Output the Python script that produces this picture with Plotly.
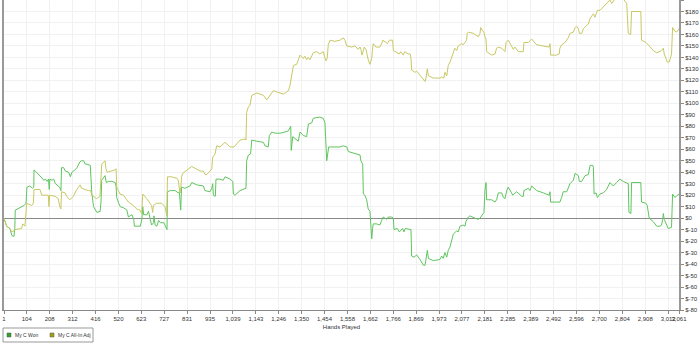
import plotly.graph_objects as go

# ---------------- data ----------------
hands_won = [1, 13, 28, 36, 46, 50, 52, 70, 80, 92, 101, 105, 117, 131, 136, 137, 148, 159, 166, 173, 181, 189, 196, 203, 206, 209, 218, 226, 234, 241, 253, 259, 262, 271, 279, 294, 302, 309, 317, 332, 345, 353, 362, 370, 377, 392, 395, 399, 407, 415, 422, 437, 441, 444, 453, 459, 465, 475, 490, 505, 509, 512, 521, 528, 543, 558, 565, 581, 589, 592, 619, 626, 630, 634, 649, 656, 664, 670, 679, 681, 686, 694, 702, 710, 726, 736, 740, 742, 755, 777,
             791, 796, 799, 802, 806, 821, 844, 852, 875, 905, 912, 935, 943, 947, 950, 959, 962, 980, 995, 1003, 1026, 1038, 1041, 1048, 1071, 1098, 1101, 1109, 1119, 1124, 1147, 1177, 1184, 1199, 1204, 1215, 1230, 1252, 1275, 1290, 1301, 1303, 1310, 1335, 1343, 1358, 1373, 1381, 1396, 1403, 1433, 1448, 1456, 1464, 1473, 1501, 1524, 1539, 1555, 1562, 1592, 1607, 1615, 1619, 1627, 1630, 1637, 1645, 1652, 1660, 1663, 1668, 1672, 1675, 1690, 1705, 1713, 1720, 1736, 1743, 1758, 1766, 1769, 1784, 1793, 1808, 1814, 1820, 1846, 1849, 1860, 1872, 1887, 1902, 1910, 1914, 1920, 1925, 1947, 1977, 1985, 1992, 2000, 2008, 2015, 2023, 2030, 2038, 2053, 2060, 2068, 2083, 2091, 2095, 2106, 2113, 2136, 2151, 2159, 2171, 2177, 2181, 2186, 2189, 2212, 2227, 2234, 2242, 2257, 2265, 2272, 2280, 2287, 2302, 2307, 2325, 2348, 2355, 2358, 2378, 2385, 2393, 2416, 2446, 2473, 2476, 2479, 2506, 2521, 2529, 2536, 2552, 2559, 2567, 2582, 2590, 2605, 2609, 2620, 2635, 2650, 2658, 2670, 2673, 2676, 2685, 2691, 2703, 2718, 2733, 2748, 2763, 2778, 2793, 2808, 2824, 2831, 2834, 2843, 2846, 2869, 2888, 2891, 2911, 2917, 2921, 2926, 2944, 2960, 2975, 2982, 2987, 2990, 2994, 3008, 3012, 3027, 3032, 3042, 3061]
won = [0, -7, -9, -15, -16, -9, 7, 9, 10, 11, 13, 27, 28, 26, 27, 42, 40, 38, 36, 35, 33, 34, 32, 34, 25, 34, 33, 34, 30, 29, 27, 24, 44, 44, 41, 40, 36, 40, 41, 44, 49, 50, 50, 47, 47, 46, 35, 22, 10, 7, 5, 6, 15, 33, 36, 37, 31, 32, 32, 31, 28, 18, 13, 10, 9, 7, 1, 3, -1, -7, -7, -1, 10, 3, 3, 6, -1, -6, -4, 2, -6, -7, -2, -4, -4, -9, -10, 23, 24, 24,
       22, 23, 16, 7, 27, 26, 28, 31, 29, 28, 24, 23, 26, 30, 20, 19, 34, 34, 33, 36, 34, 32, 21, 20, 24, 26, 50, 55, 56, 68, 67, 66, 63, 62, 72, 75, 74, 74, 75, 76, 80, 59, 71, 67, 75, 72, 71, 82, 83, 87, 88, 87, 83, 50, 62, 62, 62, 63, 62, 58, 56, 55, 55, 50, 47, 21, 20, 16, 8, 6, -2, -18, -9, -5, -5, -6, -2, 1, -1, 1, 1, 0, -10, -9, -12, -9, -12, -9, -10, -33, -34, -32, -36, -41, -41, -34, -28, -35, -37, -36, -33, -35, -30, -34, -28, -25, -19, -14, -11, -12, -7, -6, -7, -3, 1, 2, 0, -1, 0, 4, 5, 24, 31, 16, 16, 14, 16, 22, 22, 18, 17, 24, 27, 22, 20, 23, 19, 19, 24, 26, 24, 28, 24, 22, 20, 23, 14, 14, 14, 18, 23, 23, 26, 30, 33, 39, 37, 32, 32, 37, 38, 46, 46, 44, 21, 22, 18, 21, 22, 25, 31, 28, 31, 34, 32, 31, 30, 5, 4, 31, 31, 31, 14, 13, 11, 5, 0, -3, -7, -7, -6, -1, 4, -1, -7, -9, -8, 21, 18, 21]

hands_adj = [1, 13, 28, 36, 46, 51, 81, 86, 96, 100, 104, 127, 134, 137, 164, 172, 202, 205, 208, 232, 247, 254, 259, 262, 278, 285, 300, 315, 331, 346, 353, 383, 394, 399, 421, 436, 441, 444, 459, 463, 469, 504, 509, 512, 527, 542, 565, 587, 603, 617, 625, 630, 648, 663, 670, 675, 678, 693, 716, 731, 735, 739, 742, 761, 776, 784, 791, 796, 799, 803, 806, 811, 829, 837, 852, 890, 905, 912, 920, 935, 943, 947, 958, 965, 980, 1003, 1026, 1044, 1056, 1071, 1094, 1098, 1101, 1109, 1116, 1124, 1147, 1177, 1192, 1207, 1222, 1237, 1252, 1267, 1283, 1290, 1297, 1305, 1313, 1328, 1335, 1343, 1358, 1365, 1373, 1381, 1388, 1396, 1403, 1418, 1433, 1448, 1456, 1460, 1466, 1471, 1479, 1501, 1524, 1539, 1547, 1555, 1577, 1592, 1607, 1615, 1619, 1624, 1630, 1634, 1642, 1648, 1652, 1660, 1668, 1671, 1675, 1687, 1705, 1713, 1718, 1733, 1739, 1748, 1763, 1766, 1784, 1793, 1800, 1811, 1818, 1833, 1842, 1846, 1849, 1864, 1872, 1884, 1894, 1902, 1910, 1914, 1920, 1925, 1947, 1977, 1985, 1995, 2000, 2008, 2011, 2015, 2023, 2030, 2038, 2045, 2053, 2060, 2076, 2083, 2091, 2098, 2101, 2106, 2128, 2151, 2159, 2162, 2171, 2177, 2181, 2186, 2189, 2212, 2227, 2234, 2242, 2257, 2272, 2277, 2287, 2295, 2302, 2310, 2317, 2333, 2355, 2358, 2378, 2393, 2416, 2446, 2473, 2476, 2479, 2506, 2518, 2521, 2529, 2544, 2559, 2567, 2582, 2590, 2597, 2605, 2609, 2620, 2628, 2643, 2650, 2658, 2673, 2680, 2691, 2703, 2718, 2733, 2748, 2756, 2771, 2808, 2824, 2831, 2842, 2846, 2884, 2888, 2891, 2911, 2926, 2944, 2960, 2982, 2990, 2994, 3002, 3008, 3017, 3023, 3027, 3032, 3042, 3050, 3061]
adj = [0, -7, -9, -12, -11, -10, -9, -5, -7, 10, 13, 11, 13, 25, 25, 20, 20, 10, 20, 19, 17, 10, 8, 23, 22, 19, 16, 19, 25, 29, 26, 24, 24, 20, 17, 19, 36, 47, 50, 43, 40, 42, 43, 27, 21, 20, 14, 11, 8, 7, 4, 21, 17, 13, 11, 5, 11, 13, 13, 10, 3, 2, 36, 36, 35, 35, 33, 23, 22, 27, 36, 39, 42, 43, 45, 41, 41, 38, 38, 41, 43, 53, 56, 63, 62, 66, 62, 62, 65, 68, 69, 68, 92, 97, 98, 107, 109, 107, 103, 107, 111, 110, 109, 108, 110, 111, 115, 126, 133, 134, 137, 142, 139, 141, 138, 140, 138, 142, 144, 145, 143, 145, 140, 137, 139, 151, 155, 154, 155, 157, 155, 150, 149, 150, 147, 149, 147, 142, 146, 149, 147, 141, 138, 134, 139, 146, 152, 149, 149, 152, 155, 153, 152, 155, 155, 146, 144, 143, 145, 142, 145, 143, 143, 139, 129, 127, 128, 125, 122, 120, 119, 122, 130, 124, 122, 122, 123, 122, 127, 124, 128, 133, 136, 140, 144, 148, 146, 150, 152, 151, 153, 155, 161, 162, 161, 158, 161, 166, 163, 162, 158, 156, 145, 142, 143, 148, 149, 148, 145, 153, 155, 152, 149, 147, 149, 145, 145, 153, 153, 156, 151, 150, 149, 152, 142, 142, 143, 148, 151, 153, 157, 161, 162, 166, 167, 165, 161, 161, 165, 168, 169, 174, 178, 175, 181, 181, 184, 187, 190, 187, 191, 191, 187, 161, 160, 180, 180, 180, 155, 153, 150, 146, 144, 146, 148, 143, 139, 136, 136, 141, 143, 166, 163, 162, 165]

x_ticks = [1, 104, 208, 312, 416, 520, 623, 727, 831, 935, 1039, 1143, 1246, 1350, 1454, 1558, 1662, 1766, 1869, 1973, 2077, 2181, 2285, 2389, 2492, 2596, 2700, 2804, 2908, 3012, 3061]
y_ticks = list(range(-80, 191, 10))

series_names = ["My C Won", "My C All-In Adj"]
line_colors = ["#5ec55e", "#c8c864"]
legend_colors = ["#2aa52a", "#a0a010"]

# ---------------- figure ----------------
fig = go.Figure()
fig.add_trace(go.Scatter(x=hands_won, y=won, mode="lines", name=series_names[0],
                         line=dict(color=line_colors[0], width=1), showlegend=False, hoverinfo="skip"))
fig.add_trace(go.Scatter(x=hands_adj, y=adj, mode="lines", name=series_names[1],
                         line=dict(color=line_colors[1], width=1), showlegend=False, hoverinfo="skip"))

font_family = "Liberation Sans, Arial, sans-serif"

fig.update_layout(
    width=700, height=346,
    margin=dict(l=4, r=21, t=0, b=36),
    paper_bgcolor="white", plot_bgcolor="white",
    font=dict(family=font_family, size=6, color="#333"),
    showlegend=False,
    xaxis=dict(
        range=[1, 3061],
        tickvals=x_ticks,
        ticktext=[f"{v:,}" for v in x_ticks],
        tickangle=0,
        showgrid=True, gridcolor="#f1f1f1", gridwidth=1,
        showline=True, linecolor="#888", linewidth=1,
        ticks="outside", ticklen=3, tickcolor="#888",
        tickfont=dict(size=6, color="#333"),
        zeroline=False,
        title=dict(text="Hands Played", font=dict(size=6, color="#333"), standoff=3),
    ),
    yaxis=dict(
        side="right",
        range=[-80, 190],
        tickvals=y_ticks,
        ticktext=[f"${v}" for v in y_ticks],
        showgrid=True, gridcolor="#f1f1f1", gridwidth=1,
        zeroline=True, zerolinecolor="#8a8a8a", zerolinewidth=1,
        showline=True, mirror=True, linecolor="#999", linewidth=2,
        ticks="outside", ticklen=3, tickcolor="#888",
        tickfont=dict(size=6, color="#333"),
    ),
)

# manual legend (box with small squares) below the plot area
plot_h = 310.0
plot_w = 675.0
def px_x(px):
    return (px - 4) / plot_w
def px_y(py):
    return (plot_h - py) / plot_h

shapes = [dict(type="rect", xref="paper", yref="paper",
               x0=px_x(3), x1=px_x(93), y0=px_y(342), y1=px_y(328),
               line=dict(color="#999", width=1), fillcolor="white")]
annotations = []
sq_x = [7, 50]
txt_x = [13, 56]
for i in range(2):
    shapes.append(dict(type="rect", xref="paper", yref="paper",
                       x0=px_x(sq_x[i]), x1=px_x(sq_x[i] + 4), y0=px_y(337), y1=px_y(333),
                       line=dict(color="#555", width=0.5), fillcolor=legend_colors[i]))
    annotations.append(dict(xref="paper", yref="paper", x=px_x(txt_x[i]), y=px_y(335),
                            text=series_names[i], showarrow=False, xanchor="left", yanchor="middle",
                            font=dict(size=5, color="#333", family=font_family)))
fig.update_layout(shapes=shapes, annotations=annotations)

fig.write_html("out.html")
